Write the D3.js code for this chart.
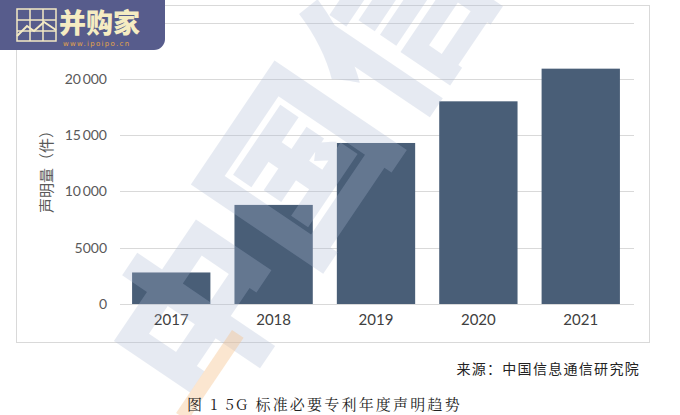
<!DOCTYPE html>
<html><head><meta charset="utf-8">
<script src="https://cdn.jsdelivr.net/npm/d3@7"></script>
<style>body{margin:0;background:#fff}svg{display:block}</style>
</head><body>
<script>
const categories = ["2017","2018","2019","2020","2021"];
const values = [2800, 8800, 14300, 18000, 20900];
const yTicks = [0, 5000, 10000, 15000, 20000, 25000];
const yTickLabels = ["0","5000","10\u2009000","15\u2009000","20\u2009000",""];
const yTitle = "声明量（件）";
const source = "来源：中国信息通信研究院";
const caption = "图 1 5G 标准必要专利年度声明趋势";

const W = 680, H = 415;
const svg = d3.select("body").append("svg").attr("width", W).attr("height", H);

// frame
svg.append("rect").attr("x",16.5).attr("y",5.5).attr("width",633).attr("height",337)
  .attr("fill","#fff").attr("stroke","#d9d9d9");

const x = d3.scaleBand().domain(categories).range([120, 632]).paddingInner(0.235).paddingOuter(0.118);
const y = d3.scaleLinear().domain([0, 25000]).range([304, 22.5]);

// grid
svg.append("g").selectAll("line").data(yTicks).join("line")
  .attr("x1",120).attr("x2",634).attr("y1",d=>Math.round(y(d))+0.5).attr("y2",d=>Math.round(y(d))+0.5)
  .attr("stroke","#d9d9d9").attr("stroke-width",1);

// y labels
const yAxis = d3.axisLeft(y).tickValues(yTicks.slice(0,5)).tickSize(0).tickPadding(0)
  .tickFormat((d,i)=>yTickLabels[i]);
const ga = svg.append("g").attr("transform","translate(107,0)").call(yAxis);
ga.select(".domain").remove();
ga.selectAll("text").attr("font-family","Lato, 'Open Sans', sans-serif").attr("font-size",14).attr("fill","#595959");

// bars
svg.append("g").selectAll("rect").data(values).join("rect")
  .attr("x",(d,i)=>x(categories[i])).attr("width",x.bandwidth())
  .attr("y",d=>y(d)).attr("height",d=>y(0)-y(d)).attr("fill","#495e77");

// x labels
const xAxis = d3.axisBottom(x).tickSize(0).tickPadding(0);
const gx = svg.append("g").attr("transform","translate(0,314)").call(xAxis);
gx.select(".domain").remove();
gx.selectAll("text").attr("font-family","Lato, 'Open Sans', sans-serif").attr("font-size",15).attr("fill","#404040");

// y title
svg.append("text").attr("transform","translate(52,168) rotate(-90)").attr("text-anchor","middle")
  .attr("font-family","'Noto Sans CJK SC', sans-serif").attr("font-size",15).attr("fill","#595959").text(yTitle);

// watermark
const wm = svg.append("g").attr("transform","translate(205,420) rotate(-56)").attr("pointer-events","none");
wm.append("text").attr("x",0).attr("y",0)
  .attr("font-family","'Noto Sans CJK SC', sans-serif").attr("font-weight",900).attr("font-size",175)
  .attr("fill","#a9b7d3").attr("opacity",0.28).text("中国信通");
svg.append("rect").attr("transform","translate(232,330) rotate(34)").attr("x",0).attr("y",0)
  .attr("width",14).attr("height",100).attr("fill","#f6c08a").attr("opacity",0.4);

// source & caption
svg.append("text").attr("x",640).attr("y",374).attr("text-anchor","end")
  .attr("font-family","'Noto Sans CJK SC', sans-serif").attr("font-size",14).attr("letter-spacing",1.3)
  .attr("fill","#222").text(source);
svg.append("text").attr("x",187).attr("y",410)
  .attr("font-family","'Noto Serif CJK SC','Noto Sans CJK SC', serif").attr("font-size",15).attr("letter-spacing",2.2)
  .attr("fill","#222").text(caption);

// logo
const lg = svg.append("g");
lg.append("rect").attr("x",-12).attr("y",-12).attr("width",177).attr("height",62).attr("rx",11).attr("fill","#575c8c");
const ic = lg.append("g").attr("stroke","#f3e9c4").attr("fill","none").attr("stroke-width",1.5);
ic.append("rect").attr("x",17).attr("y",9).attr("width",39).attr("height",32);
[30,43].forEach(v=>ic.append("line").attr("x1",v).attr("x2",v).attr("y1",9).attr("y2",41));
[20,31].forEach(v=>ic.append("line").attr("y1",v).attr("y2",v).attr("x1",17).attr("x2",56));
ic.append("polyline").attr("points","17,36 27,26 34,31 44,22 56,30").attr("stroke-width",2);
lg.append("text").attr("x",59).attr("y",33).attr("font-family","'Noto Sans CJK SC', sans-serif")
  .attr("font-weight",900).attr("font-size",27).attr("fill","#f5ecc2").text("并购家");
lg.append("text").attr("x",63).attr("y",46).attr("font-family","'DejaVu Sans', sans-serif")
  .attr("font-size",7).attr("letter-spacing",1.3).attr("fill","#e6a548").text("www.ipoipo.cn");
</script>
</body></html>
